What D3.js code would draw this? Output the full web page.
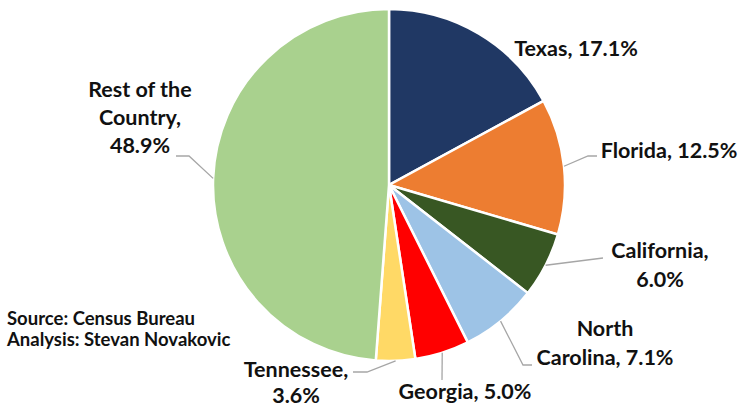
<!DOCTYPE html>
<html>
<head>
<meta charset="utf-8">
<script src="https://cdn.jsdelivr.net/npm/d3@7"></script>
<style>
  body { margin: 0; background: #fff; }
  text { font-family: Lato, "Noto Sans", sans-serif; font-weight: bold; fill: #111; }
</style>
</head>
<body>
<div id="chart"></div>
<script>
'use strict';

const states = ['Texas', 'Florida', 'California', 'North Carolina', 'Georgia', 'Tennessee', 'Rest of the Country'];
const shares = [17.1, 12.5, 6.0, 7.1, 5.0, 3.6, 48.9];
const colors = ['#203864', '#ED7D31', '#385723', '#9DC3E6', '#FF0000', '#FFD966', '#A9D18E'];
const notes  = ['Source: Census Bureau', 'Analysis: Stevan Novakovic'];

// label lines and where they go, hand placed like the original
const labelLayout = [
    { lines: ['Texas, 17.1%'],              x: 576, y: 56,  leader: null },
    { lines: ['Florida, 12.5%'],            x: 669, y: 158, leader: [[588, 156], [597, 156]] },
    { lines: ['California,', '6.0%'],       x: 660, y: 258, leader: [[603, 258]] },
    { lines: ['North', 'Carolina, 7.1%'],   x: 605, y: 336, leader: [[523, 365], [532, 365]] },
    { lines: ['Georgia, 5.0%'],             x: 465, y: 399, leader: [[442, 380]] },
    { lines: ['Tennessee,', '3.6%'],        x: 296, y: 377, leader: [[367, 372], [353, 372]], lh: 26 },
    { lines: ['Rest of the', 'Country,', '48.9%'], x: 140, y: 97, leader: [[189, 156], [176, 156]], lh: 28 }
];

const width = 739, height = 409;
const cx = 389, cy = 185, radius = 176;
const lineH = 29;

const svg = d3.select('#chart').append('svg')
    .attr('width', width)
    .attr('height', height);

const data = states.map((s, i) => ({ name: s, value: shares[i], color: colors[i], layout: labelLayout[i] }));

const pie = d3.pie().sort(null).value(d => d.value);
const arc = d3.arc().innerRadius(0).outerRadius(radius);

const g = svg.append('g').attr('transform', `translate(${cx},${cy})`);
const arcs = pie(data);

g.selectAll('path')
    .data(arcs)
    .enter()
    .append('path')
    .attr('d', arc)
    .style('fill', d => d.data.color)
    .style('stroke', '#fff')
    .style('stroke-width', 2.5);

// leader lines
svg.selectAll('polyline')
    .data(arcs.filter(d => d.data.layout.leader))
    .enter()
    .append('polyline')
    .attr('points', d =>
    {
        let a = (d.startAngle + d.endAngle) / 2;
        let p = [cx + radius * Math.sin(a), cy - radius * Math.cos(a)];
        return [p].concat(d.data.layout.leader).map(q => q.join(',')).join(' ');
    })
    .style('fill', 'none')
    .style('stroke', '#a6a6a6')
    .style('stroke-width', 1.3);

// labels
let labels = svg.selectAll('text.lbl')
    .data(data)
    .enter()
    .append('text')
    .attr('class', 'lbl')
    .attr('text-anchor', 'middle')
    .style('font-size', '21.5px');

labels.each(function (d)
{
    let t = d3.select(this);
    let L = d.layout;
    L.lines.forEach((ln, i) =>
    {
        t.append('tspan')
            .attr('x', L.x)
            .attr('y', L.y + i * (L.lh || lineH))
            .text(ln);
    });
});

svg.selectAll('text.note')
    .data(notes)
    .enter()
    .append('text')
    .attr('class', 'note')
    .attr('x', 7)
    .attr('y', (d, i) => 325 + i * 21)
    .style('font-size', '18.5px')
    .text(d => d);
</script>
</body>
</html>
